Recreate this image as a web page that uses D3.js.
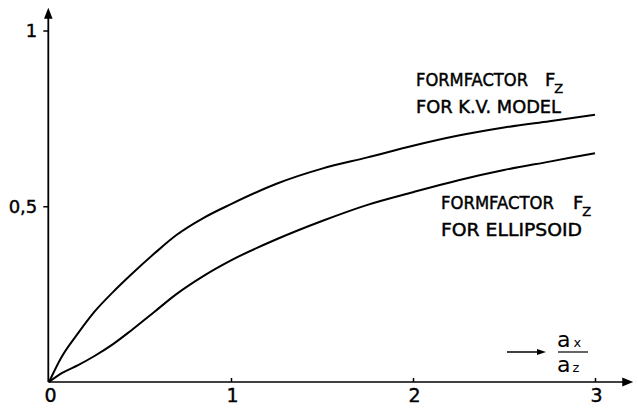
<!DOCTYPE html>
<html>
<head>
<meta charset="utf-8">
<script src="https://cdn.jsdelivr.net/npm/d3@7"></script>
<style>
html,body{margin:0;padding:0;background:#fff;}
svg{display:block;}
text{font-family:"DejaVu Sans","Liberation Sans",sans-serif;fill:#000;}
</style>
</head>
<body>
<svg id="chart" width="638" height="409"></svg>
<script>
// ---- data ----
const xValues   = [0, 0.07, 0.16, 0.25, 0.35, 0.45, 0.58, 0.7, 0.85, 1, 1.25, 1.5, 1.75, 2, 2.25, 2.5, 2.75, 3];
const kvModel   = [0, 0.072, 0.139, 0.200, 0.255, 0.305, 0.366, 0.418, 0.467, 0.506, 0.564, 0.607, 0.639, 0.672, 0.701, 0.724, 0.742, 0.760];
const ellipsoid = [0, 0.025, 0.048, 0.074, 0.107, 0.146, 0.200, 0.250, 0.302, 0.346, 0.406, 0.458, 0.504, 0.540, 0.574, 0.603, 0.627, 0.651];
const xTicks = [0, 1, 2, 3];
const xTickLabels = ["0", "1", "2", "3"];
const yTicks = [0.5, 1];
const yTickLabels = ["0,5", "1"];
const kvLabel = ["FORMFACTOR", "F", "Z", "FOR K.V. MODEL"];
const ellLabel = ["FORMFACTOR", "F", "Z", "FOR  ELLIPSOID"];

const svg = d3.select("#chart");
const x = d3.scaleLinear().domain([0, 3]).range([49, 595]);
const y = d3.scaleLinear().domain([0, 1]).range([382, 30.5]);

// axes
const xAxis = d3.axisBottom(x).tickValues(xTicks).tickSizeInner(-4).tickSizeOuter(0)
  .tickFormat((d, i) => xTickLabels[i]);
const gx = svg.append("g").attr("transform", `translate(0,${y(0)})`).call(xAxis);
gx.select(".domain").remove();
gx.selectAll(".tick line").attr("stroke", "#000").attr("stroke-width", 1.5);
gx.selectAll(".tick text").attr("y", 19.5).attr("dy", 0).style("font-size", "19px")
  .attr("stroke", "#000").attr("stroke-width", 0.4)
  .attr("transform", "translate(1,0)");
gx.selectAll(".tick").filter(d => d === 0).select("line").remove();

const yAxis = d3.axisLeft(y).tickValues(yTicks).tickSizeInner(5).tickSizeOuter(0)
  .tickFormat((d, i) => yTickLabels[i]);
const gy = svg.append("g").attr("transform", `translate(${x(0) - 0.7},0)`).call(yAxis);
gy.select(".domain").remove();
gy.selectAll(".tick line").attr("stroke", "#000").attr("stroke-width", 1.5);
gy.selectAll(".tick text").attr("x", -11).style("font-size", "18px")
  .attr("stroke", "#000").attr("stroke-width", 0.4);

// axis lines with arrowheads
const ax0 = x(0) - 0.7, ay0 = y(0);
const yTop = y(1.065), xEnd = x(3.21);
svg.append("line").attr("x1", ax0).attr("y1", ay0).attr("x2", ax0).attr("y2", yTop + 6)
  .attr("stroke", "#000").attr("stroke-width", 1.8);
svg.append("path").attr("d", `M${ax0},${yTop} L${ax0 - 4.3},${yTop + 11} L${ax0 + 4.3},${yTop + 11} Z`).attr("fill", "#000");
svg.append("line").attr("x1", ax0).attr("y1", ay0).attr("x2", xEnd - 6).attr("y2", ay0)
  .attr("stroke", "#000").attr("stroke-width", 1.6);
svg.append("path").attr("d", `M${xEnd},${ay0} L${xEnd - 11},${ay0 - 4.5} L${xEnd - 11},${ay0 + 4.5} Z`).attr("fill", "#000");

// curves
const line = d3.line().x(d => x(d[0])).y(d => y(d[1])).curve(d3.curveMonotoneX);
svg.append("path").datum(xValues.map((v, i) => [v, kvModel[i]]))
  .attr("d", line).attr("fill", "none").attr("stroke", "#000").attr("stroke-width", 2);
svg.append("path").datum(xValues.map((v, i) => [v, ellipsoid[i]]))
  .attr("d", line).attr("fill", "none").attr("stroke", "#000").attr("stroke-width", 2);

// labels
function label(lbl, lx, ly, w1, fx, w2) {
  const t = (sel) => sel.attr("stroke", "#000").attr("stroke-width", 0.45);
  svg.append("text").attr("x", lx).attr("y", ly).style("font-size", "18px")
    .attr("textLength", w1).attr("lengthAdjust", "spacingAndGlyphs").text(lbl[0]).call(t);
  const fz = svg.append("text").attr("x", fx).attr("y", ly).style("font-size", "18px").call(t);
  fz.append("tspan").text(lbl[1]);
  fz.append("tspan").attr("dx", -1).attr("dy", 7).style("font-size", "13px").text(lbl[2]);
  svg.append("text").attr("x", lx).attr("y", ly + 27).style("font-size", "18px")
    .attr("textLength", w2).attr("lengthAdjust", "spacingAndGlyphs").text(lbl[3]).call(t);
}
label(kvLabel, 416, 85.5, 112, 545, 145);
label(ellLabel, 441, 209, 113, 573, 141);

// axis title: -> a_x / a_z
const ty = 352;
svg.append("line").attr("x1", 507).attr("y1", ty).attr("x2", 538).attr("y2", ty).attr("stroke", "#000").attr("stroke-width", 1.5);
svg.append("path").attr("d", `M546,${ty} L537,${ty - 3} L537,${ty + 3} Z`).attr("fill", "#000");
svg.append("line").attr("x1", 558).attr("y1", ty).attr("x2", 588).attr("y2", ty).attr("stroke", "#000").attr("stroke-width", 1.2);
const num = svg.append("text").attr("x", 557).attr("y", 346.5).style("font-size", "22px");
num.append("tspan").text("a");
num.append("tspan").attr("dx", 3).style("font-size", "13px").text("x");
const den = svg.append("text").attr("x", 557).attr("y", 371.5).style("font-size", "22px");
den.append("tspan").text("a");
den.append("tspan").attr("dx", 2).style("font-size", "13px").text("z");
</script>
</body>
</html>
